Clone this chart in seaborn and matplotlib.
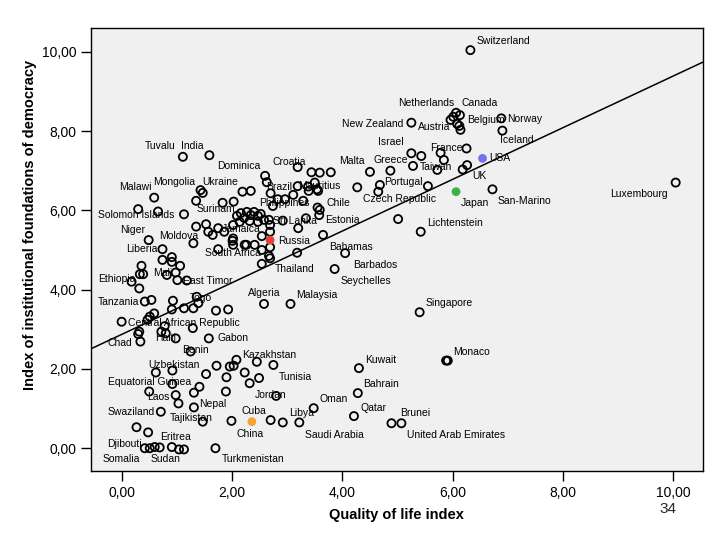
import numpy as np
import pandas as pd
import matplotlib
matplotlib.use("Agg")
import matplotlib.pyplot as plt
from matplotlib.ticker import FuncFormatter
import seaborn as sns

# ---- data ----
qol = [1.11, 1.59, 0.59, 1.43, 1.47, 1.35, 1.83, 2.03, 2.19, 2.34, 2.60, 2.63,
       0.30, 0.66, 1.13, 0.49, 1.35, 1.53, 1.57, 1.65, 1.75, 1.86, 1.30, 2.01,
       2.02, 2.23, 1.75, 0.74, 2.09, 2.16, 2.22, 2.27, 2.34, 2.40, 2.47, 2.52,
       2.32, 2.47, 2.58, 2.14, 2.02, 2.70, 2.83, 2.96, 3.11, 2.74, 3.29, 3.19,
       3.19, 3.44, 3.59, 3.79, 3.50, 3.38, 3.54, 3.39, 3.56, 4.27, 4.50, 2.67,
       2.69, 2.92, 3.34, 3.20, 3.65, 2.54, 2.69, 3.55, 3.59, 3.58, 2.02, 2.26,
       2.41, 2.54, 2.69, 2.67, 3.18, 4.05, 2.69, 2.54, 3.86, 2.58, 3.06, 0.74,
       0.91, 0.91, 1.06, 0.36, 0.33, 0.39, 0.18, 0.82, 0.98, 1.01, 0.32, 1.18,
       0.42, 0.54, 0.93, 0.91, 1.13, 1.30, 1.39, 1.36, 1.71, 1.93, 0.59, 0.51,
       0.47, 0.00, 0.78, 0.72, 1.29, 0.32, 0.30, 0.34, 0.98, 0.80, 1.58, 1.25,
       2.08, 2.75, 2.45, 1.96, 4.30, 0.62, 0.92, 0.92, 1.72, 2.03, 1.53, 1.90,
       2.23, 2.49, 2.32, 2.80, 1.41, 1.31, 1.89, 0.50, 0.98, 1.03, 1.31, 0.71,
       1.47, 1.99, 0.27, 0.48, 0.42, 0.51, 0.60, 0.69, 0.91, 1.04, 1.13, 1.70,
       2.70, 2.92, 3.22, 3.48, 4.28, 4.21, 4.89, 5.07, 5.88, 5.91, 5.40, 6.32,
       5.25, 6.06, 6.13, 6.01, 5.96, 6.08, 6.12, 6.14, 6.88, 6.90, 6.25, 5.25,
       5.43, 5.78, 5.84, 5.28, 4.87, 5.72, 6.18, 6.26, 5.55, 4.68, 4.65, 6.72,
       5.01, 5.42, 10.04]
democracy = [7.35, 7.39, 6.32, 6.51, 6.44, 6.24, 6.19, 6.22, 6.47, 6.49, 6.87, 6.71,
             6.03, 5.97, 5.90, 5.25, 5.59, 5.65, 5.46, 5.38, 5.55, 5.46, 5.17, 5.23,
             5.13, 5.13, 5.02, 5.02, 5.86, 5.93, 5.81, 5.96, 5.88, 5.96, 5.86, 5.91,
             5.73, 5.71, 5.76, 5.71, 5.63, 6.43, 6.28, 6.28, 6.39, 6.11, 6.24, 6.61,
             7.09, 6.96, 6.95, 6.96, 6.70, 6.60, 6.53, 6.49, 6.49, 6.58, 6.97, 5.76,
             5.63, 5.74, 5.80, 5.55, 5.38, 5.35, 5.46, 6.07, 6.01, 5.88, 5.29, 5.13,
             5.13, 5.00, 5.07, 4.85, 4.93, 4.92, 4.79, 4.65, 4.52, 3.64, 3.64, 4.75,
             4.82, 4.70, 4.60, 4.60, 4.39, 4.39, 4.20, 4.37, 4.43, 4.24, 4.03, 4.23,
             3.70, 3.74, 3.72, 3.50, 3.53, 3.53, 3.66, 3.82, 3.47, 3.50, 3.40, 3.32,
             3.24, 3.19, 3.08, 2.94, 3.03, 2.94, 2.88, 2.69, 2.77, 2.90, 2.77, 2.44,
             2.23, 2.10, 2.18, 2.06, 2.02, 1.91, 1.96, 1.62, 2.08, 2.08, 1.87, 1.79,
             1.91, 1.77, 1.64, 1.32, 1.55, 1.40, 1.43, 1.43, 1.34, 1.13, 1.03, 0.92,
             0.67, 0.69, 0.53, 0.40, 0.00, 0.00, 0.03, 0.02, 0.03, -0.03, -0.03, 0.00,
             0.71, 0.65, 0.65, 1.01, 1.39, 0.81, 0.63, 0.63, 2.21, 2.21, 3.43, 10.04,
             8.21, 8.46, 8.40, 8.36, 8.28, 8.18, 8.13, 8.03, 8.32, 8.01, 7.56, 7.44,
             7.37, 7.45, 7.27, 7.12, 7.00, 7.02, 7.03, 7.14, 6.61, 6.64, 6.47, 6.53,
             5.78, 5.46, 6.70]

# highlighted countries
hl_names = ["Russia", "USA", "Japan", "China"]
hl_qol = [2.69, 6.54, 6.06, 2.36]
hl_dem = [5.25, 7.31, 6.47, 0.67]
hl_colors = {"Russia": "#E8413C", "USA": "#7373EE", "Japan": "#3DB04A", "China": "#F2A33A"}

# country labels and where they sit (data units, left edge / vertical centre)
label_names = ["Switzerland", "Netherlands", "Canada", "New Zealand", "Austria", "Belgium",
               "Norway", "Israel", "France", "Iceland", "Tuvalu", "India", "Dominica",
               "Croatia", "Malta", "Greece", "Taiwan", "USA", "UK", "Malawi", "Mongolia",
               "Ukraine", "Brazil", "Mauritius", "Portugal", "Czech Republic", "Japan",
               "San-Marino", "Luxembourg", "Philippines", "Chile", "Solomon Islands",
               "Surinam", "Sri Lanka", "Estonia", "Niger", "Moldova", "Jamaica",
               "Lichtenstein", "Russia", "Liberia", "South Africa", "Bahamas", "Barbados",
               "Thailand", "Mali", "Ethiopia", "East Timor", "Seychelles", "Algeria",
               "Malaysia", "Togo", "Tanzania", "Singapore", "Central African Republic",
               "Haiti", "Gabon", "Chad", "Benin", "Monaco", "Kazakhstan", "Kuwait",
               "Uzbekistan", "Tunisia", "Equatorial Guinea", "Bahrain", "Laos", "Jordan",
               "Oman", "Nepal", "Swaziland", "Cuba", "Libya", "Qatar", "Brunei",
               "Tajikistan", "China", "Saudi Arabia", "United Arab Emirates", "Eritrea",
               "Djibouti", "Somalia", "Sudan", "Turkmenistan"]
label_x = [6.44, 5.01, 6.15, 4.00, 5.37, 6.26, 6.98, 4.64, 5.59, 6.85, 0.42, 1.07, 1.73,
           2.74, 3.95, 4.57, 5.40, 6.67, 6.36, -0.05, 0.57, 1.47, 2.61, 3.19, 4.75, 4.37,
           6.15, 6.82, 8.86, 2.49, 3.72, -0.43, 1.35, 2.74, 3.68, -0.03, 0.68, 1.82, 5.53,
           2.83, 0.08, 1.51, 3.76, 4.19, 2.78, 0.57, -0.43, 1.11, 3.97, 2.29, 3.16, 1.24,
           -0.43, 5.51, 0.11, 0.60, 1.73, -0.25, 1.09, 6.00, 2.18, 4.41, 0.49, 2.85,
           -0.25, 4.37, 0.46, 2.41, 3.59, 1.40, -0.25, 2.18, 3.03, 4.32, 5.04, 0.88,
           2.09, 3.32, 5.17, 0.69, -0.27, -0.34, 0.53, 1.82]
label_y = [10.27, 8.71, 8.71, 8.18, 8.10, 8.28, 8.30, 7.72, 7.57, 7.77, 7.62, 7.62, 7.12,
           7.22, 7.24, 7.27, 7.09, 7.32, 6.87, 6.59, 6.71, 6.71, 6.59, 6.61, 6.71, 6.29,
           6.19, 6.24, 6.41, 6.19, 6.19, 5.89, 6.04, 5.73, 5.76, 5.50, 5.35, 5.53, 5.68,
           5.23, 5.03, 4.92, 5.07, 4.62, 4.52, 4.42, 4.27, 4.22, 4.22, 3.92, 3.87, 3.79,
           3.69, 3.67, 3.16, 2.78, 2.78, 2.66, 2.48, 2.43, 2.35, 2.23, 2.10, 1.80, 1.67,
           1.62, 1.29, 1.34, 1.24, 1.11, 0.92, 0.94, 0.89, 1.02, 0.89, 0.76, 0.36, 0.34,
           0.34, 0.28, 0.11, -0.27, -0.27, -0.27]

# fitted line
fit_intercept = 2.87
fit_slope = 0.652

x_ticks = [0, 2, 4, 6, 8, 10]
y_ticks = [0, 2, 4, 6, 8, 10]

# ---- plot ----
sns.set_style("ticks")
plt.rcParams["font.family"] = ["Liberation Sans", "DejaVu Sans"]

fig, ax = plt.subplots(figsize=(7.2, 5.4), dpi=100)
fig.subplots_adjust(left=0.126, right=0.976, bottom=0.127, top=0.949)
ax.set_facecolor("#F0F0F0")

df = pd.DataFrame({"qol": qol, "dem": democracy})
sns.scatterplot(data=df, x="qol", y="dem", ax=ax, marker="o", s=34,
                facecolors="none", edgecolor="black", linewidth=1.3, zorder=3)

hl = pd.DataFrame({"name": hl_names, "qol": hl_qol, "dem": hl_dem})
sns.scatterplot(data=hl, x="qol", y="dem", hue="name", palette=hl_colors, ax=ax,
                marker="o", s=40, edgecolor="none", legend=False, zorder=4)

ax.axline((0, fit_intercept), slope=fit_slope, color="black", linewidth=1.1, zorder=2)

for name, lx, ly in zip(label_names, label_x, label_y):
    ax.text(lx, ly, name, fontsize=7.5, ha="left", va="center", color="black", zorder=5)

ax.set_xlim(-0.56, 10.53)
ax.set_ylim(-0.585, 10.61)
ax.set_xticks(x_ticks)
ax.set_yticks(y_ticks)
comma = FuncFormatter(lambda v, p: f"{v:.2f}".replace(".", ","))
ax.xaxis.set_major_formatter(comma)
ax.yaxis.set_major_formatter(comma)
ax.tick_params(direction="out", length=7, width=1, labelsize=10, colors="black")

for sp in ax.spines.values():
    sp.set_visible(True)
    sp.set_color("black")
    sp.set_linewidth(1)

ax.set_xlabel("Quality of life index", fontsize=10.5, fontweight="bold", color="black")
ax.set_ylabel("Index of institutional foundations of democracy", fontsize=10.5,
              fontweight="bold", color="black")
ax.xaxis.set_label_coords(0.5, -0.082)
ax.yaxis.set_label_coords(-0.088, 0.556)

fig.text(0.928, 0.057, "34", fontsize=11, ha="center", va="center")

fig.savefig("out.png", dpi=100)
